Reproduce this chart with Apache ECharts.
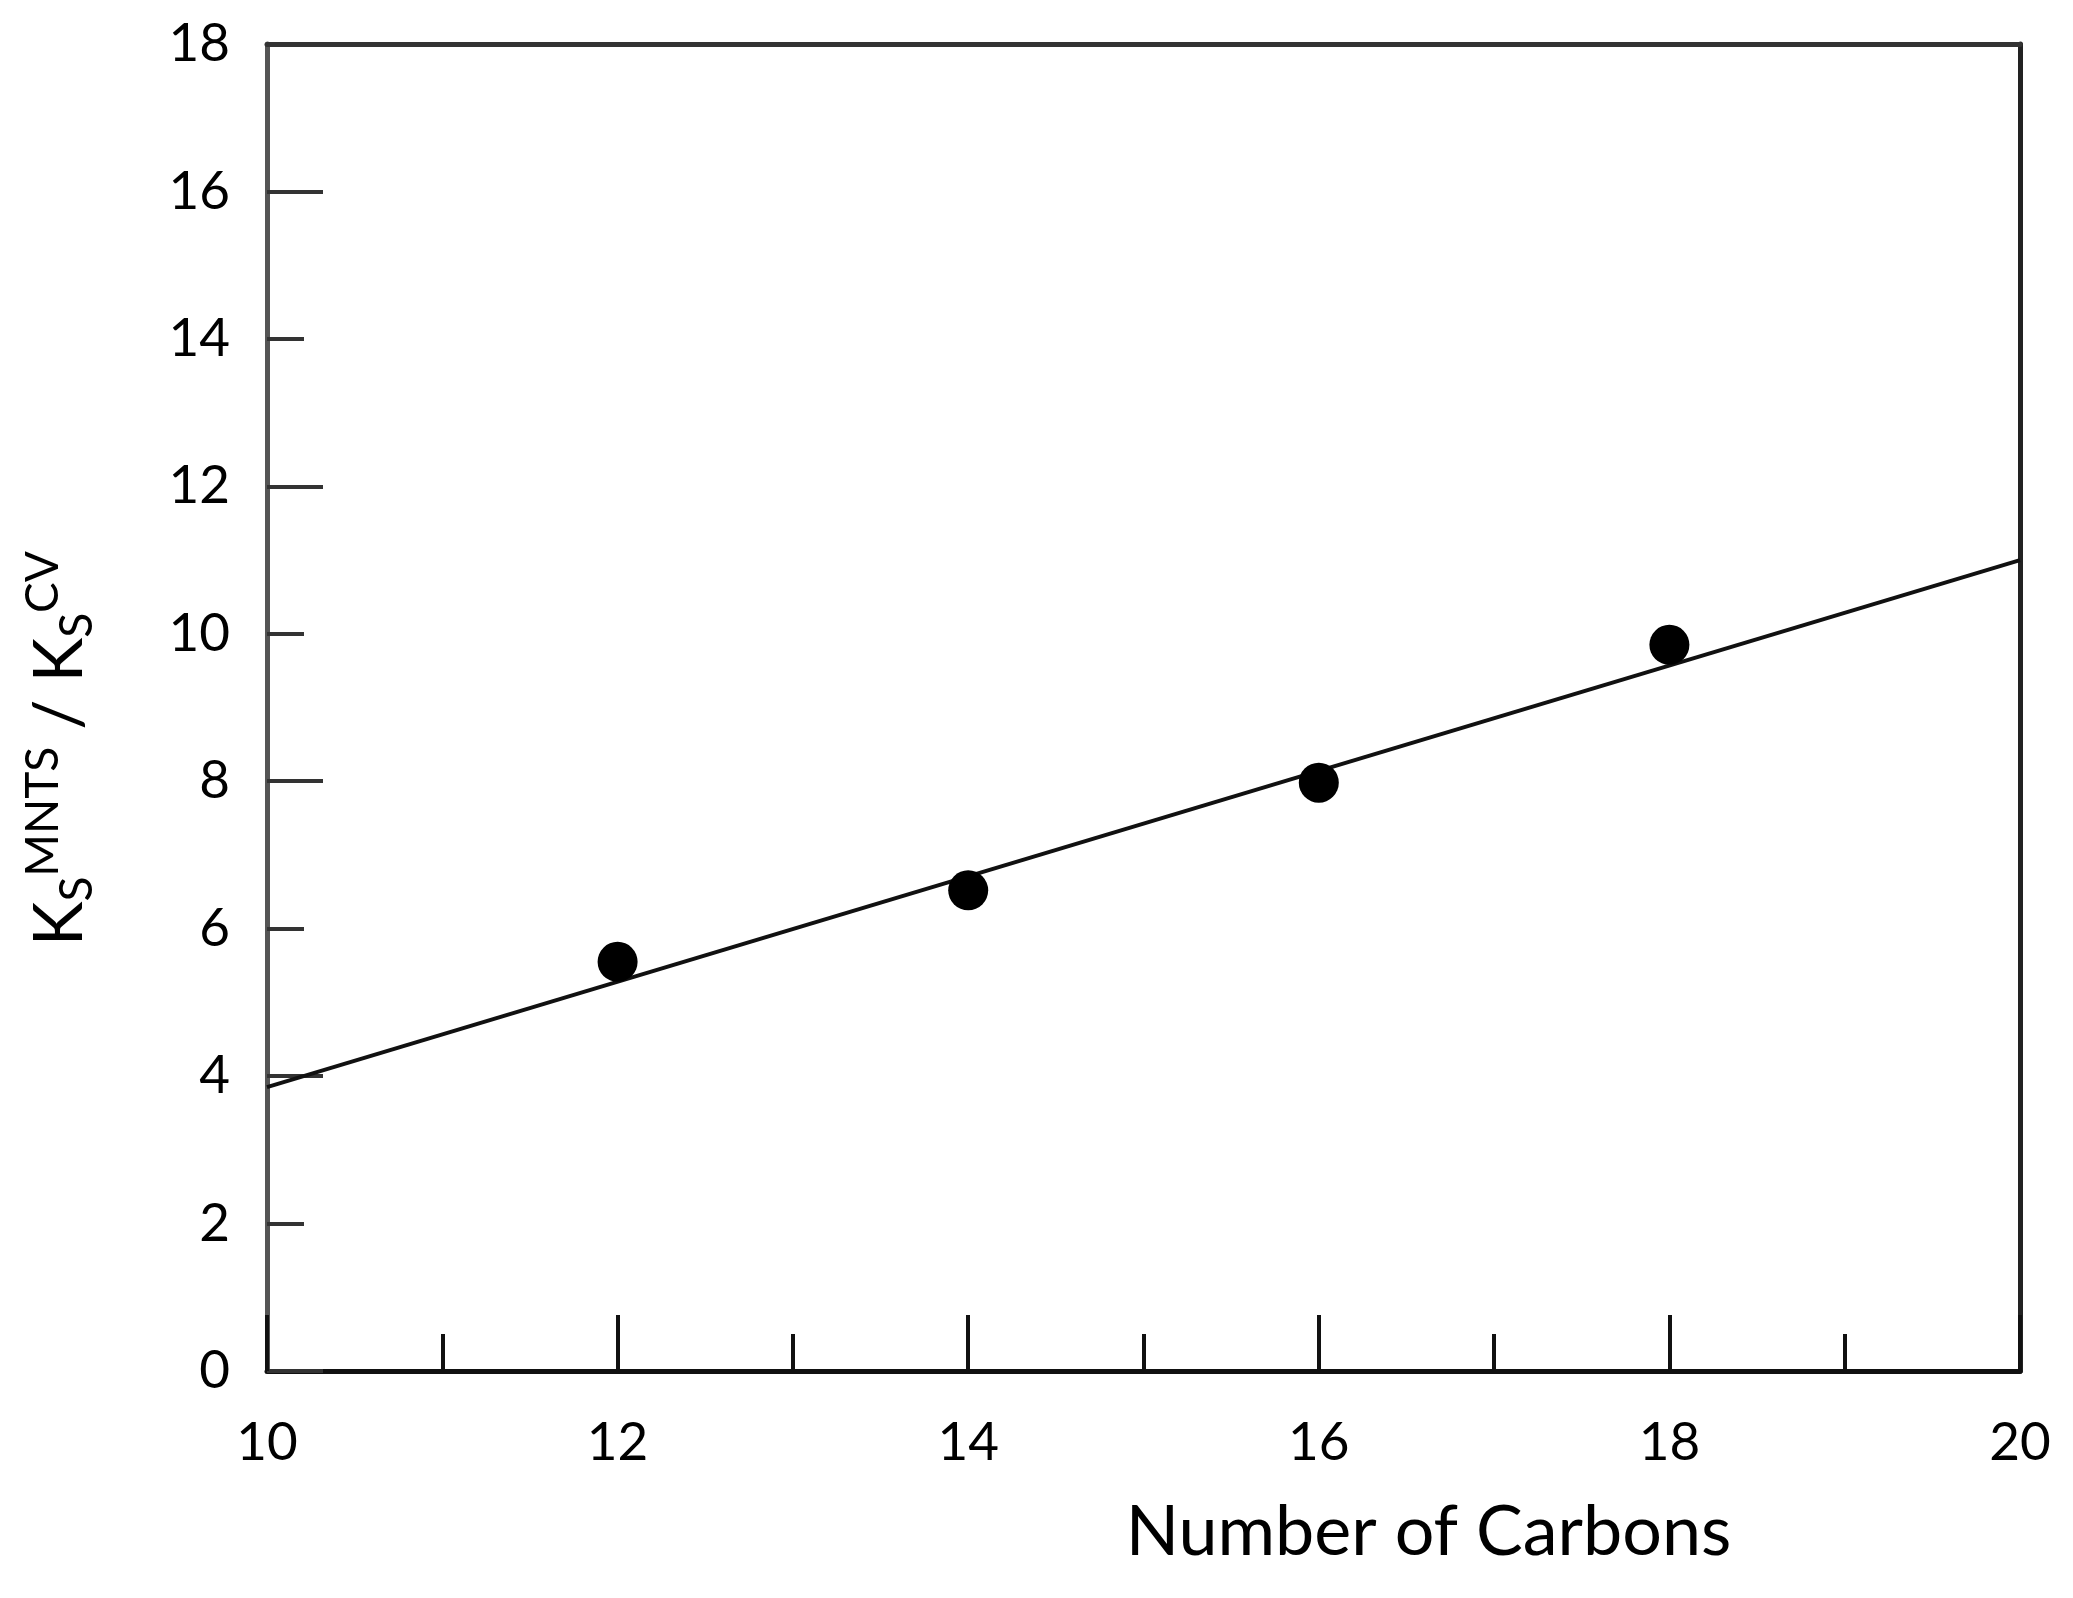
<!DOCTYPE html>
<html>
<head>
<meta charset="utf-8">
<script src="https://cdn.jsdelivr.net/npm/echarts@6/dist/echarts.min.js"></script>
<style>
html,body{margin:0;padding:0;background:#fff;}
#chart{width:2073px;height:1598px;}
</style>
</head>
<body>
<div id="chart"></div>
<script>
// Data
const carbons = [12, 14, 16, 18];
const ratio = [5.55, 6.52, 7.98, 9.85];
const fitX = [10, 20];
const fitY = [3.85, 11.0];
const xTicks = [10, 12, 14, 16, 18, 20];
const yTicks = [0, 2, 4, 6, 8, 10, 12, 14, 16, 18];

const FONT = 'Lato';
const chart = echarts.init(document.getElementById('chart'));

const points = carbons.map((c, i) => [c, ratio[i]]);
const fitLine = fitX.map((x, i) => [x, fitY[i]]);

chart.setOption({
  backgroundColor: '#ffffff',
  animation: false,
  grid: { left: 267, right: 53, top: 44, bottom: 227, outerBoundsMode: 'none' },
  xAxis: [
    {
      type: 'value', position: 'bottom',
      min: xTicks[0], max: xTicks[xTicks.length - 1], interval: 2,
      name: 'Number of Carbons', nameLocation: 'middle', nameGap: 126,
      nameTextStyle: { fontFamily: FONT, fontSize: 70, color: '#000', padding: [0, 0, 0, 570] },
      axisLine: { show: true, onZero: false, lineStyle: { color: '#111', width: 5 } },
      axisTick: { show: true, inside: true, length: 56, lineStyle: { color: '#111', width: 4 } },
      minorTick: { show: true, splitNumber: 2, length: 37, lineStyle: { color: '#111', width: 4 } },
      axisLabel: { fontFamily: FONT, fontSize: 53, color: '#000', margin: 45 },
      splitLine: { show: false }
    },
    {
      type: 'value', position: 'top',
      min: xTicks[0], max: xTicks[xTicks.length - 1], interval: 2,
      axisLine: { show: true, onZero: false, lineStyle: { color: '#333', width: 5 } },
      axisTick: { show: false }, axisLabel: { show: false }, splitLine: { show: false }
    }
  ],
  yAxis: [
    {
      type: 'value', position: 'left',
      min: yTicks[0], max: yTicks[yTicks.length - 1], interval: 2,
      name: '{k|K}{sub|S}{sup|MNTS}{k| / K}{sub|S}{sup|CV}',
      nameLocation: 'middle', nameRotate: 90, nameGap: 167,
      nameTextStyle: {
        fontFamily: FONT, color: '#000', padding: [0, 82, 0, 0],
        rich: {
          k: { fontFamily: FONT, fontSize: 67, lineHeight: 80, color: '#000' },
          sub: { fontFamily: FONT, fontSize: 46, lineHeight: 46, verticalAlign: 'bottom', color: '#000' },
          sup: { fontFamily: FONT, fontSize: 46, lineHeight: 46, verticalAlign: 'top', color: '#000' }
        }
      },
      axisLine: { show: true, onZero: false, lineStyle: { color: '#555', width: 5 } },
      axisTick: { show: true, inside: true, length: 37, lineStyle: { color: '#333', width: 4 } },
      axisLabel: { fontFamily: FONT, fontSize: 53, color: '#000', margin: 37 },
      splitLine: { show: false }
    },
    {
      type: 'value', position: 'left',
      min: yTicks[0], max: yTicks[yTicks.length - 1], interval: 4,
      axisLine: { show: false, onZero: false },
      axisTick: { show: true, inside: true, length: 56, lineStyle: { color: '#333', width: 4 } },
      axisLabel: { show: false }, splitLine: { show: false }
    },
    {
      type: 'value', position: 'right',
      min: yTicks[0], max: yTicks[yTicks.length - 1], interval: 2,
      axisLine: { show: true, onZero: false, lineStyle: { color: '#222', width: 5 } },
      axisTick: { show: false }, axisLabel: { show: false }, splitLine: { show: false }
    }
  ],
  series: [
    {
      type: 'line', data: fitLine, xAxisIndex: 0, yAxisIndex: 0,
      showSymbol: false, symbol: 'none',
      lineStyle: { color: '#111', width: 4 }, z: 3
    },
    {
      type: 'scatter', data: points, xAxisIndex: 0, yAxisIndex: 0,
      symbol: 'circle', symbolSize: 40,
      itemStyle: { color: '#000', opacity: 1 }, z: 4
    }
  ]
});
</script>
</body>
</html>
